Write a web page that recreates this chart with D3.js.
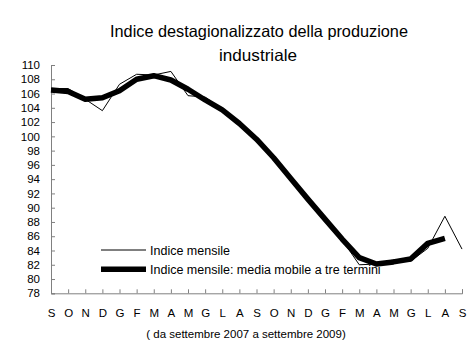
<!DOCTYPE html>
<html>
<head>
<meta charset="utf-8">
<script src="https://d3js.org/d3.v7.min.js"></script>
<style>
  body { margin: 0; background: #fff; }
  text { font-family: "Liberation Sans", Arial, sans-serif; fill: #000; }
</style>
</head>
<body>
<script>
const months = ["S","O","N","D","G","F","M","A","M","G","L","A",
                "S","O","N","D","G","F","M","A","M","G","L","A","S"]
// Indice mensile (settembre 2007 - settembre 2009)
const monthly = [106.7, 106.7, 105.2, 103.6, 107.3, 108.7, 108.6, 109.1, 105.7, 105.5, 103.8, 101.8,
                 99.6, 97.0, 94.0, 90.8, 88.6, 85.5, 82.0, 82.1, 82.7, 82.5, 84.3, 88.8, 84.2]
// media mobile a tre termini (fino ad agosto 2009)
const movingAvg = [106.5, 106.3, 105.2, 105.4, 106.4, 108.0, 108.5, 107.9, 106.6, 105.1, 103.7, 101.8,
                   99.6, 97.0, 94.1, 91.2, 88.4, 85.6, 83.0, 82.1, 82.4, 82.8, 85.0, 85.7]
const yTicks = d3.range(78, 111, 2)
const legendLabels = ["Indice mensile", "Indice mensile: media mobile a tre termini"]

const W = 472, H = 354
const svg = d3.select("body").append("svg").attr("width", W).attr("height", H)

const x = d3.scalePoint().domain(d3.range(months.length)).range([51, 462])
const y = d3.scaleLinear().domain([78, 110]).range([293.3, 65])

// title
svg.append("text").attr("x", 259).attr("y", 37).attr("text-anchor", "middle")
  .style("font-size", "16.5px").attr("textLength", 298).attr("lengthAdjust", "spacingAndGlyphs")
  .text("Indice destagionalizzato della produzione")
svg.append("text").attr("x", 258).attr("y", 61).attr("text-anchor", "middle")
  .style("font-size", "16.5px").attr("textLength", 78).attr("lengthAdjust", "spacingAndGlyphs")
  .text("industriale")

// y axis
const yAxis = svg.append("g").attr("transform", "translate(51,0)")
  .call(d3.axisRight(y).tickValues(yTicks).tickSize(4).tickFormat(d3.format("d")))
yAxis.select(".domain").attr("stroke", "#808080")
yAxis.selectAll(".tick line").attr("stroke", "#808080")
yAxis.selectAll(".tick text").attr("x", -11).attr("text-anchor", "end")
  .style("font-size", "11.5px").style("font-family", "'Liberation Sans', Arial, sans-serif")

// x axis
const xAxis = svg.append("g").attr("transform", `translate(0,${y(78)})`)
  .call(d3.axisTop(x).tickSize(4).tickFormat(i => months[i]))
xAxis.select(".domain").attr("stroke", "#808080")
xAxis.selectAll(".tick line").attr("stroke", "#808080")
xAxis.selectAll(".tick text").attr("y", 24).attr("dy", "0")
  .style("font-size", "11.5px").style("font-family", "'Liberation Sans', Arial, sans-serif")

svg.append("text").attr("x", 246).attr("y", 338).attr("text-anchor", "middle")
  .style("font-size", "11.5px").text("( da settembre 2007 a settembre 2009)")

// lines
const line = d3.line().x((d, i) => x(i)).y(d => y(d))
svg.append("path").datum(monthly).attr("d", line)
  .attr("fill", "none").attr("stroke", "#000").attr("stroke-width", 1)
svg.append("path").datum(movingAvg).attr("d", line)
  .attr("fill", "none").attr("stroke", "#000").attr("stroke-width", 5.5)
  .attr("stroke-linejoin", "round")

// legend
const legend = svg.append("g")
legendLabels.forEach((lab, k) => {
  const ly = 250 + k * 19.3
  legend.append("line").attr("x1", 101).attr("x2", 146).attr("y1", ly).attr("y2", ly)
    .attr("stroke", "#000").attr("stroke-width", k === 0 ? 1 : 5.5)
  legend.append("text").attr("x", 150).attr("y", ly + 4.5)
    .style("font-size", "12.5px").text(lab)
})
</script>
</body>
</html>
